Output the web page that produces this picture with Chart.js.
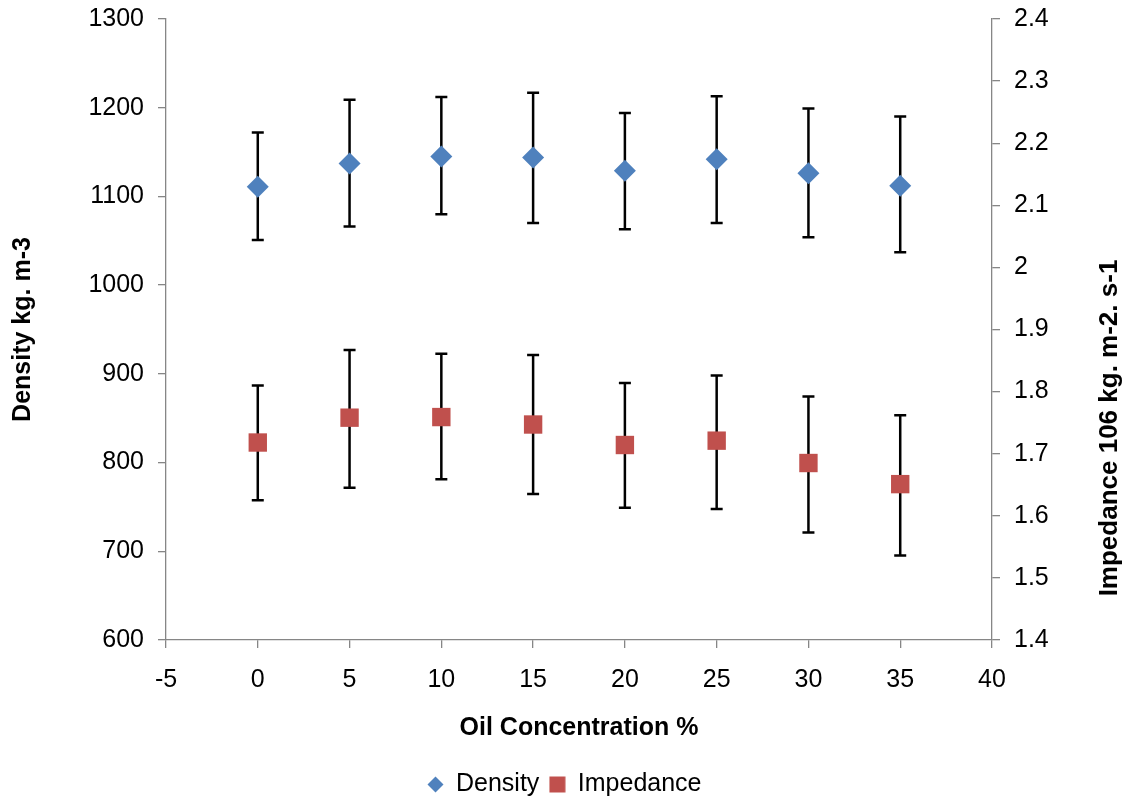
<!DOCTYPE html>
<html>
<head>
<meta charset="utf-8">
<script src="https://cdn.jsdelivr.net/npm/chart.js@4.4.1/dist/chart.umd.min.js"></script>
<style>
  html, body { margin: 0; padding: 0; background: #fff; }
  #wrap { width: 1129px; height: 800px; }
</style>
</head>
<body>
<div id="wrap"><canvas id="chart" width="1129" height="800"></canvas></div>
<script>
// oil concentration (%) on the x axis
const concentration = [0, 5, 10, 15, 20, 25, 30, 35];

// density, kg m-3, with error bar ends
const density     = [1111, 1137, 1145, 1144, 1129, 1142, 1126, 1112];
const densityLow  = [1051, 1066, 1080, 1070, 1063, 1070, 1054, 1037];
const densityHigh = [1172, 1209, 1212, 1217, 1194, 1213, 1199, 1190];

// impedance, 10^6 kg m-2 s-1, with error bar ends
const impedance     = [1.718, 1.758, 1.759, 1.747, 1.714, 1.721, 1.685, 1.651];
const impedanceLow  = [1.625, 1.645, 1.659, 1.635, 1.613, 1.611, 1.573, 1.536];
const impedanceHigh = [1.810, 1.867, 1.861, 1.859, 1.814, 1.826, 1.792, 1.762];

const xTitle = 'Oil Concentration %';
const yTitle = 'Density kg. m-3';
const y1Title = 'Impedance 106 kg. m-2. s-1';

const FONT = "'Liberation Sans', Arial, sans-serif";
const AXIS_GREY = '#868686';
const BLUE = '#4F81BD';
const RED = '#C0504D';

Chart.defaults.font.family = FONT;
Chart.defaults.color = '#000';

// error bars, drawn under the markers
const errorBars = {
  id: 'errorBars',
  beforeDatasetsDraw(chart) {
    const ctx = chart.ctx;
    const xs = chart.scales.x;
    ctx.save();
    ctx.strokeStyle = '#000';
    ctx.lineWidth = 2.5;
    chart.data.datasets.forEach(ds => {
      const ys = chart.scales[ds.yAxisID];
      ds.data.forEach((p, i) => {
        const px = xs.getPixelForValue(p.x);
        const top = ys.getPixelForValue(ds.errHigh[i]);
        const bot = ys.getPixelForValue(ds.errLow[i]);
        ctx.beginPath();
        ctx.moveTo(px, top); ctx.lineTo(px, bot);
        ctx.moveTo(px - 6, top); ctx.lineTo(px + 6, top);
        ctx.moveTo(px - 6, bot); ctx.lineTo(px + 6, bot);
        ctx.stroke();
      });
    });
    ctx.restore();
  }
};

// right axis title reads bottom-to-top like the left one
const rightTitle = {
  id: 'rightTitle',
  afterDraw(chart) {
    const s = chart.scales.y1;
    const ctx = chart.ctx;
    ctx.save();
    ctx.font = 'bold 26px ' + FONT;
    ctx.fillStyle = '#000';
    ctx.textAlign = 'center';
    ctx.textBaseline = 'middle';
    ctx.translate(s.right - 19, 428);
    ctx.rotate(-Math.PI / 2);
    ctx.fillText(y1Title, 0, 0);
    ctx.restore();
  }
};

function legendIcon(kind, color) {
  const c = document.createElement('canvas');
  c.width = 17; c.height = 17;
  const g = c.getContext('2d');
  g.fillStyle = color;
  g.beginPath();
  if (kind === 'diamond') {
    g.moveTo(8.5, 0.5); g.lineTo(16.5, 8.5); g.lineTo(8.5, 16.5); g.lineTo(0.5, 8.5); g.closePath();
  } else {
    g.rect(0.5, 0.5, 16, 16);
  }
  g.fill();
  return c;
}
const icons = [legendIcon('diamond', BLUE), legendIcon('square', RED)];

const axisGrid = { drawOnChartArea: false, drawTicks: true, tickLength: 8, color: AXIS_GREY, lineWidth: 1.3 };
const axisBorder = { color: AXIS_GREY, width: 1.3 };

new Chart(document.getElementById('chart').getContext('2d'), {
  type: 'scatter',
  data: {
    datasets: [
      {
        label: 'Density',
        data: concentration.map((c, i) => ({ x: c, y: density[i] })),
        errLow: densityLow, errHigh: densityHigh,
        yAxisID: 'y',
        pointStyle: 'rectRot', pointRadius: 11, pointHoverRadius: 11,
        backgroundColor: BLUE, borderColor: BLUE, borderWidth: 0
      },
      {
        label: 'Impedance',
        data: concentration.map((c, i) => ({ x: c, y: impedance[i] })),
        errLow: impedanceLow, errHigh: impedanceHigh,
        yAxisID: 'y1',
        pointStyle: 'rect', pointRadius: 13, pointHoverRadius: 13,
        backgroundColor: RED, borderColor: RED, borderWidth: 0
      }
    ]
  },
  options: {
    responsive: false,
    animation: false,
    layout: { padding: { top: 19, right: 0, bottom: -7, left: 0 } },
    plugins: {
      tooltip: { enabled: false },
      legend: {
        position: 'bottom',
        labels: {
          usePointStyle: true,
          boxWidth: 16, boxHeight: 16,
          padding: 10,
          font: { size: 25 },
          color: '#000',
          generateLabels(chart) {
            const items = Chart.defaults.plugins.legend.labels.generateLabels(chart);
            items.forEach((it, i) => { it.pointStyle = icons[i]; });
            return items;
          }
        }
      }
    },
    scales: {
      x: {
        type: 'linear', position: 'bottom',
        min: -5, max: 40,
        ticks: { stepSize: 5, font: { size: 25 }, padding: 17, color: '#000' },
        grid: axisGrid, border: axisBorder,
        title: { display: true, text: xTitle, font: { size: 25, weight: 'bold' }, padding: { top: 0, bottom: 19 } },
        afterFit: s => { s.height = 122; }
      },
      y: {
        position: 'left',
        min: 600, max: 1300,
        ticks: { stepSize: 100, font: { size: 25 }, padding: 14, color: '#000',
                 callback: v => String(v) },
        grid: axisGrid, border: axisBorder,
        title: { display: true, text: yTitle, font: { size: 25, weight: 'bold' }, padding: { top: 8, bottom: 0 } },
        afterFit: s => { s.width = 166; s.paddingTop = 0; s.paddingBottom = 0; }
      },
      y1: {
        position: 'right',
        min: 1.4, max: 2.4,
        ticks: { stepSize: 0.1, font: { size: 25 }, padding: 14, color: '#000',
                 callback: v => String(Math.round(v * 10) / 10) },
        grid: axisGrid, border: axisBorder,
        afterFit: s => { s.width = 137; s.paddingTop = 0; s.paddingBottom = 0; }
      }
    }
  },
  plugins: [errorBars, rightTitle]
});
</script>
</body>
</html>
